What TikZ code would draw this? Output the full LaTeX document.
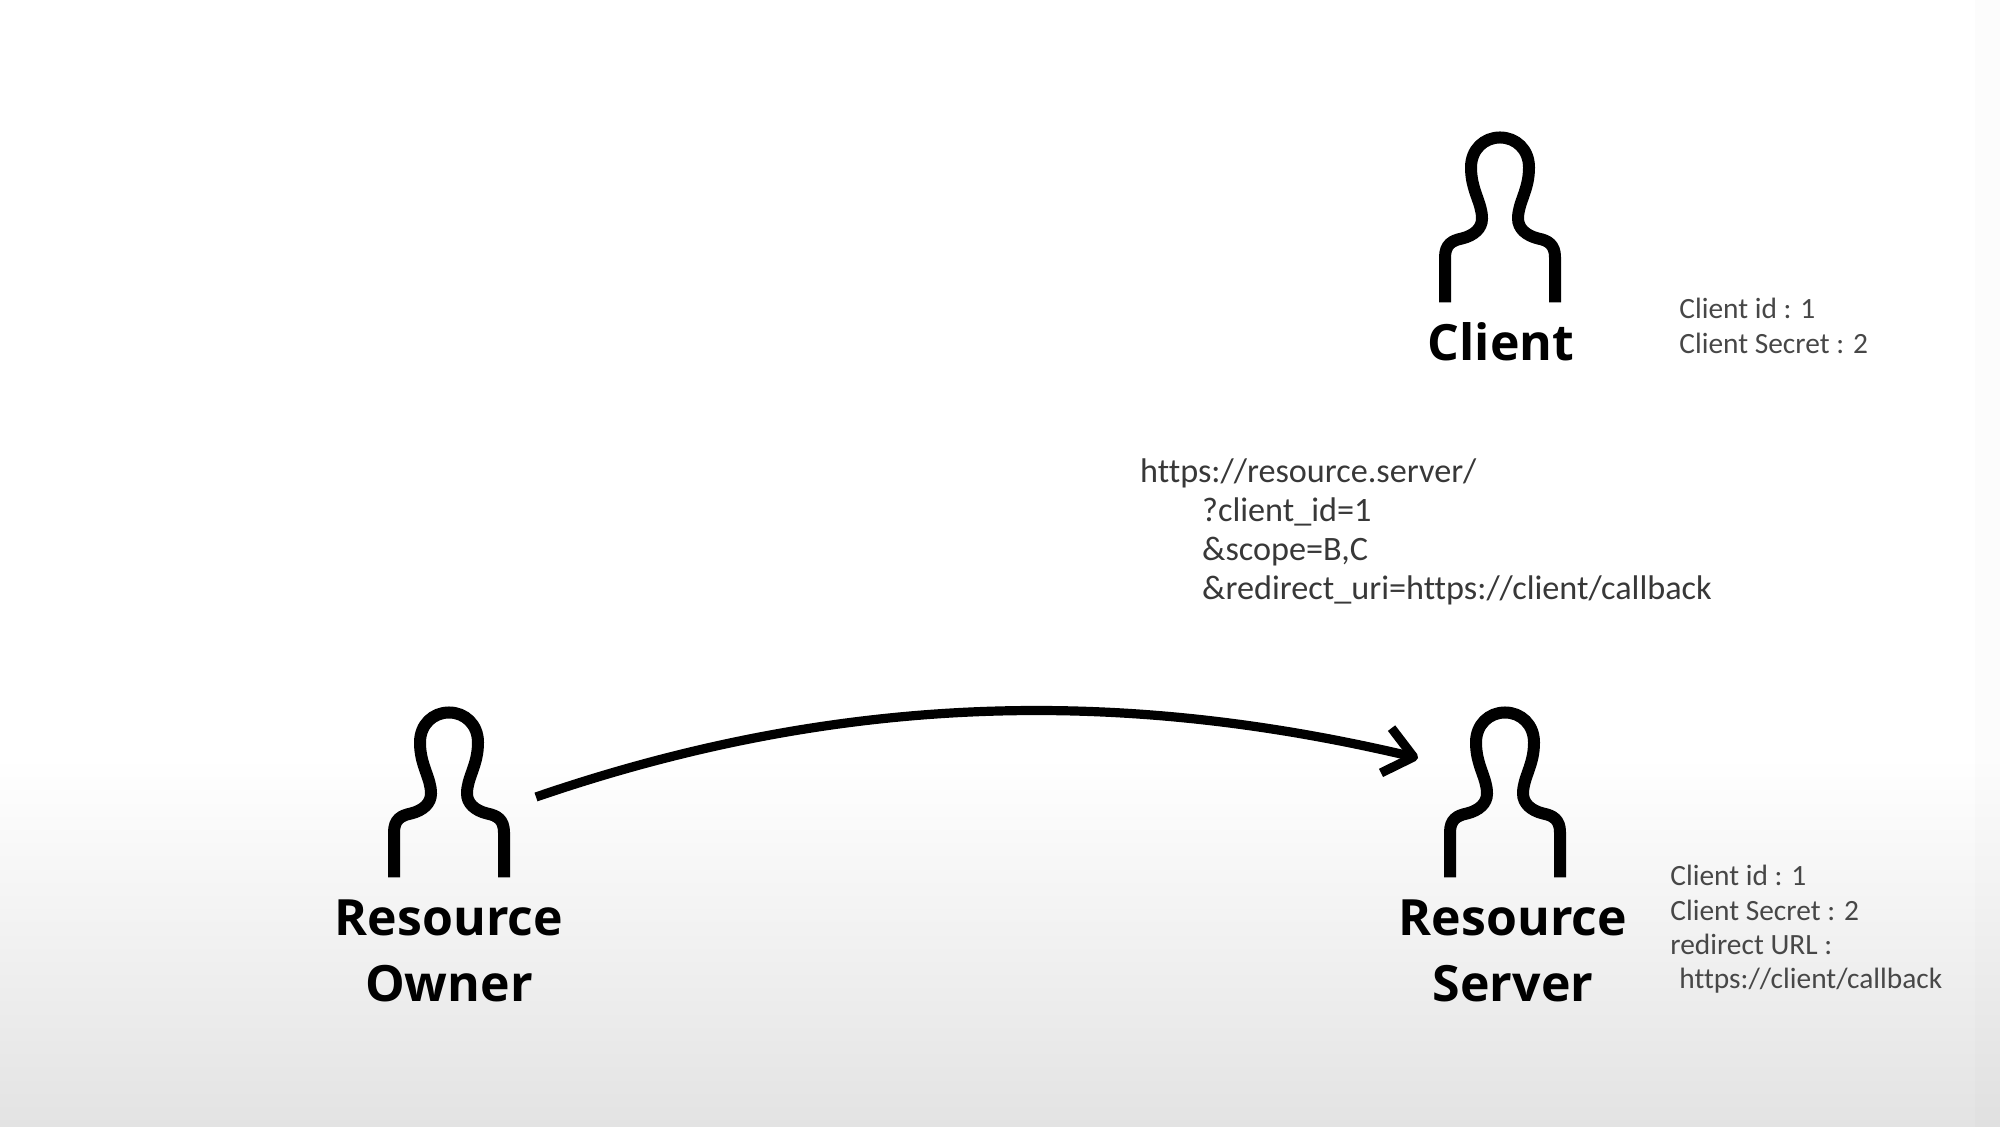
\documentclass[tikz,border=0pt]{standalone}
\usepackage{fontspec}
\setmainfont{Open Sans}
\newfontfamily\thinfont[Ligatures=NoCommon]{Carlito}
\usetikzlibrary{positioning,arrows.meta}
\begin{document}
\begin{tikzpicture}[x=.5pt,y=.5pt,
    statt/.style={minimum width=61pt,minimum height=85.5pt,inner sep=0pt,outer sep=0pt},
    person/.pic={\draw[line width=6pt,black]
        (-55,0) -- (-55,45) .. controls (-55,58) and (-48,62) .. (-38,64)
        .. controls (-26,67) and (-18,74) .. (-18,84) .. controls (-18,100) and (-29,112) .. (-29,135)
        .. controls (-29,153) and (-16,165) .. (0,165) .. controls (16,165) and (29,153) .. (29,135)
        .. controls (29,112) and (18,100) .. (18,84) .. controls (18,74) and (26,67) .. (38,64)
        .. controls (48,62) and (55,58) .. (55,45) -- (55,0);},
    lb/.style={align=center,inner sep=0pt,font=\fontsize{25}{33}\selectfont\bfseries},
    info/.style={align=left,inner sep=0pt,text=black!72,font=\thinfont\fontsize{14.7}{17.2}\selectfont},
    url/.style={align=left,inner sep=0pt,text=black!78,font=\thinfont\fontsize{17.1}{19.5}\selectfont},
    flow/.style={line width=4.6pt,-{Straight Barb[length=14pt,width=23pt,line join=round]}}]
%
   \useasboundingbox (0,0) rectangle (2000,1127);
   \shade[top color=white,bottom color=black!11] (0,0) rectangle (2000,370);
   \fill[black,opacity=.012] (1975,0) rectangle (2000,1127);
   \node[statt]         (N1) at (1500,910) {};
   \node[statt]         (N2) at (449,335)  {};
   \node[statt]         (N3) at (1505,335) {};
   \pic at (N1.south) {person};
   \pic at (N2.south) {person};
   \pic at (N3.south) {person};
   \node[lb,xshift=.5pt] (L1) [below=9.8pt of N1] {Client};
   \node[lb]            (L2) [below=11pt of N2] {Resource\\Owner};
   \node[lb,xshift=4pt] (L3) [below=11pt of N3] {Resource\\Server};
   \node[info]          (T1) [right=59pt of N1,yshift=-54.4pt] {Client id : 1\\Client Secret : 2};
   \node[info]          (T3) [right=52pt of N3,yshift=-68.7pt] {Client id : 1\\Client Secret : 2\\redirect URL :\\\hspace{4.5pt}https://client/callback};
   \node[url]           (U1) at (1426,595) {https://resource.server/\\\hspace{31pt}?client\_id=1\\\hspace{31pt}\&scope=B,C\\\hspace{31pt}\&redirect\_uri=https://client/callback};
   \draw[flow] ([xshift=13pt,yshift=-2.5pt]N2.east) .. controls +(320,110) and +(-280,66) .. ([xshift=-13pt,yshift=17pt]N3.west);
\end{tikzpicture}
\end{document}
